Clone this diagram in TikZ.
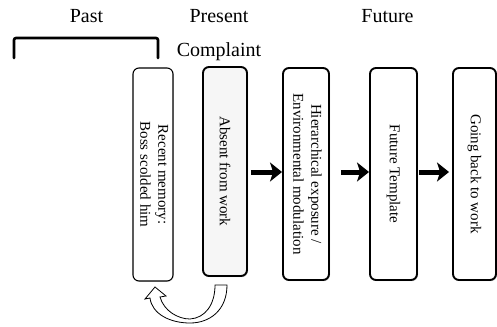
\documentclass[tikz,border=0pt]{standalone}
\usepackage{fontspec}
\setmainfont{Liberation Serif}
\usetikzlibrary{arrows.meta,shadows}
\begin{document}
\begin{tikzpicture}[x=1pt,y=-1pt,
  hdr/.style={font=\fontsize{20}{24}\selectfont, anchor=base, inner sep=0pt},
  boxbase/.style={draw=black, rounded corners=6pt, fill=white, inner sep=0pt,
     font=\fontsize{15}{18}\selectfont},
  thinbox/.style={boxbase, line width=1.1pt,
     drop shadow={shadow xshift=0.8pt, shadow yshift=-0.8pt, opacity=0.2}},
  thickbox/.style={boxbase, line width=1.9pt,
     drop shadow={shadow xshift=1pt, shadow yshift=-1.2pt, opacity=0.3}},
  bigarrow/.style={line width=5pt, -{Stealth[length=12pt,width=19pt,inset=3pt]}},
  bracketline/.style={line width=2.6pt, line cap=round}
]
\useasboundingbox (0,0) rectangle (497,326);

% headers
\node[hdr] (past) at (86.5,23) {Past};
\node[hdr] (present) at (219,23) {Present};
\node[hdr] (future) at (387.5,23) {Future};
\node[hdr] (complaint) at (219,57) {Complaint};

% bracket
\coordinate (brA) at (14,58);
\coordinate (brB) at (14,38);
\coordinate (brC) at (158,38);
\coordinate (brD) at (158,58);
\draw[bracketline, rounded corners=2pt] (brA) -- (brB) -- (brC) -- (brD);

% boxes
\node[thinbox, minimum width=40pt, minimum height=213pt] (b1) at (153,174.5)
  {\rotatebox{-90}{\begin{tabular}{@{}c@{}}Recent memory:\\Boss scolded him\end{tabular}}};
\node[thickbox, fill=gray!7, minimum width=44pt, minimum height=209pt] (b2) at (225,171.5)
  {\rotatebox{-90}{Absent from work}};
\node[thickbox, minimum width=46pt, minimum height=212pt] (b3) at (306,174)
  {\rotatebox{-90}{\begin{tabular}{@{}c@{}}Hierarchical exposure /\\Environmental modulation\end{tabular}}};
\node[thickbox, minimum width=47pt, minimum height=212pt] (b4) at (393.5,174)
  {\rotatebox{-90}{Future Template}};
\node[thickbox, minimum width=43pt, minimum height=212pt] (b5) at (474.5,174)
  {\rotatebox{-90}{Going back to work}};

% arrows
\draw[bigarrow, shorten <=3pt] (b2.east |- 0,172) -- (b3.west |- 0,172);
\draw[bigarrow, shorten <=11pt] (b3.east |- 0,172) -- (b4.west |- 0,172);
\draw[bigarrow, shorten <=1pt, shorten >=3pt] (b4.east |- 0,172) -- (b5.west |- 0,172);

% curved hollow arrow from b2 back to b1
\draw[line width=0.8pt, fill=white, line join=miter]
  (227,285) .. controls (227,310) and (210,323) .. (190,323)
  .. controls (170,323) and (152,314) .. (150,298)
  -- (145,299) -- (155,287) -- (166,296) -- (160,297)
  .. controls (164,311) and (178,319) .. (190,319)
  .. controls (205,318) and (215,305) .. (215,285) -- cycle;
\end{tikzpicture}
\end{document}
